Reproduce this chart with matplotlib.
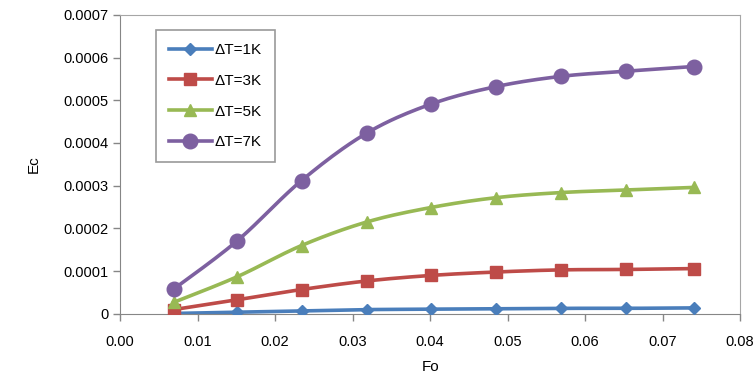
import numpy as np
import matplotlib.pyplot as plt

plt.rcParams['font.family'] = ['Liberation Sans', 'DejaVu Sans']

fo = [0.0069, 0.0151, 0.0234, 0.0318, 0.0401, 0.0485, 0.0569, 0.0653, 0.0740]
ec_1k = [0.000001, 0.000004, 0.000007, 0.000010, 0.000011, 0.000012, 0.000013, 0.000013, 0.000014]
ec_3k = [0.000010, 0.000033, 0.000057, 0.000077, 0.000090, 0.000098, 0.000103, 0.000104, 0.000106]
ec_5k = [0.000027, 0.000087, 0.000160, 0.000215, 0.000249, 0.000272, 0.000284, 0.000290, 0.000296]
ec_7k = [0.000058, 0.000171, 0.000312, 0.000423, 0.000491, 0.000532, 0.000556, 0.000568, 0.000579]

labels = ['ΔT=1K', 'ΔT=3K', 'ΔT=5K', 'ΔT=7K']
colors = ['#4A7EBB', '#BE4B48', '#98B954', '#7D60A0']
markers = ['D', 's', '^', 'o']
msizes = [6, 8, 9, 10.5]


def smooth(x, y, n=20):
    # cardinal-spline path through the points, like a spreadsheet "smoothed line"
    x = np.asarray(x)
    y = np.asarray(y)
    px = np.concatenate([[x[0]], x, [x[-1]]])
    py = np.concatenate([[y[0]], y, [y[-1]]])
    t = np.linspace(0, 1, n)[:, None]
    xs, ys = [], []
    for i in range(1, len(px) - 2):
        p0, p1, p2, p3 = px[i - 1], px[i], px[i + 1], px[i + 2]
        q0, q1, q2, q3 = py[i - 1], py[i], py[i + 1], py[i + 2]
        c1x, c1y = p1 + (p2 - p0) / 6, q1 + (q2 - q0) / 6
        c2x, c2y = p2 - (p3 - p1) / 6, q2 - (q3 - q1) / 6
        bx = (1 - t) ** 3 * p1 + 3 * (1 - t) ** 2 * t * c1x + 3 * (1 - t) * t ** 2 * c2x + t ** 3 * p2
        by = (1 - t) ** 3 * q1 + 3 * (1 - t) ** 2 * t * c1y + 3 * (1 - t) * t ** 2 * c2y + t ** 3 * q2
        xs.append(bx.ravel())
        ys.append(by.ravel())
    return np.concatenate(xs), np.concatenate(ys)


fig = plt.figure(figsize=(7.56, 3.8), dpi=100)
ax = fig.add_axes([0.159, 0.174, 0.820, 0.787])

for ys, lab, c, m, ms in zip([ec_1k, ec_3k, ec_5k, ec_7k], labels, colors, markers, msizes):
    sx, sy = smooth(fo, ys)
    ax.plot(sx, sy, color=c, lw=2.6, zorder=2)
    ax.plot(fo, ys, linestyle='none', marker=m, ms=ms, color=c, zorder=3)
    ax.plot([], [], color=c, lw=2.6, marker=m, ms=ms, label=lab)

ax.set_xlim(0, 0.08)
ax.set_ylim(0, 0.0007)
ax.set_xticks(np.arange(0, 0.081, 0.01))
ax.set_xticklabels([f'{v:.2f}' for v in np.arange(0, 0.081, 0.01)])
ax.set_yticks(np.arange(0, 0.00071, 0.0001))
ax.set_yticklabels(['0'] + [f'{v:.4f}' for v in np.arange(0.0001, 0.00071, 0.0001)])
ax.tick_params(direction='out', length=5, width=1, colors='#868686', labelcolor='black', labelsize=10.5)
ax.tick_params(axis='x', pad=10)

for s in ['left', 'bottom']:
    ax.spines[s].set_color('#868686')
for s in ['top', 'right']:
    ax.spines[s].set_color('#A6A6A6')

ax.set_xlabel('Fo', fontsize=11, labelpad=8)
ax.set_ylabel('Ec', fontsize=11, labelpad=16)

leg = ax.legend(loc='upper left', bbox_to_anchor=(0.045, 0.975), frameon=True, fancybox=False,
                edgecolor='#808080', fontsize=11, handlelength=2.8, labelspacing=1.1,
                borderpad=0.85, handletextpad=0.2)
leg.get_frame().set_linewidth(1.2)

fig.savefig('out.png', dpi=100)
